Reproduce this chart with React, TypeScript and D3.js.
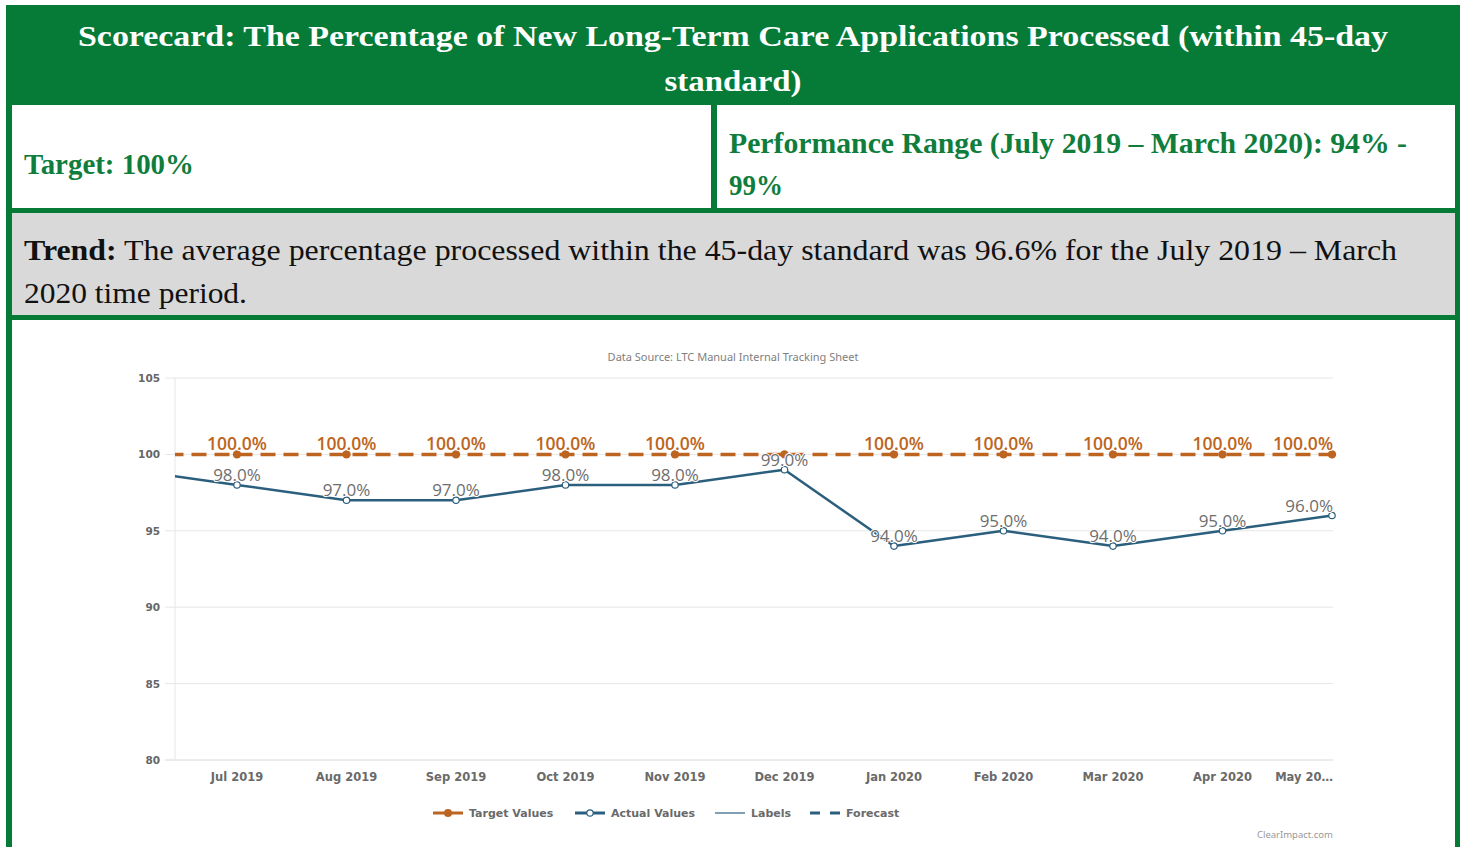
import React from "react";
import * as d3 from "d3";

// months incl. Jun 2019, which lies just left of the visible plot window
const months = ["Jun 2019", "Jul 2019", "Aug 2019", "Sep 2019", "Oct 2019", "Nov 2019", "Dec 2019", "Jan 2020", "Feb 2020", "Mar 2020", "Apr 2020", "May 2020"];
const xTickLabels = ["Jul 2019", "Aug 2019", "Sep 2019", "Oct 2019", "Nov 2019", "Dec 2019", "Jan 2020", "Feb 2020", "Mar 2020", "Apr 2020", "May 20\u2026"];
const targetValues = [100, 100, 100, 100, 100, 100, 100, 100, 100, 100, 100, 100];
const actualValues = [99, 98, 97, 97, 98, 98, 99, 94, 95, 94, 95, 96];
const yTicks = [80, 85, 90, 95, 100, 105];
const legendItems = ["Target Values", "Actual Values", "Labels", "Forecast"];

const W = 1460;
const H = 847;
const GREEN = "#067a37";
const ORANGE = "#bd6520";
const BLUE = "#2a5f7e";
const SERIF = "'Liberation Serif', 'Times New Roman', serif";
const SANS = "'DejaVu Sans', Verdana, sans-serif";
const LABEL_FONT = "'Open Sans', 'Noto Sans', sans-serif";

const plot = { left: 175, right: 1333, top: 378, bottom: 760 };

export default function App() {
  const x = d3.scalePoint<string>().domain(months).range([127.5, 1332]);
  const y = d3.scaleLinear().domain([80, 105]).range([plot.bottom, plot.top]);

  const line = d3
    .line<number>()
    .x((_, i) => x(months[i]) as number)
    .y((d) => y(d));

  const visible = (i: number) => (x(months[i]) as number) >= plot.left;
  const isLast = (i: number) => i === months.length - 1;

  // legend layout (symbol start x for each entry)
  const legendX = [433, 575, 715, 810];
  const legendY = 813;

  return (
    <svg width={W} height={H} style={{ position: "absolute", left: 0, top: 0, background: "#fff" }}>
      <defs>
        <clipPath id="plotClip">
          <rect x={plot.left} y={plot.top - 20} width={plot.right - plot.left + 10} height={plot.bottom - plot.top + 30} />
        </clipPath>
      </defs>

      {/* frame */}
      <rect x={6} y={5} width={1454} height={H} fill={GREEN} />
      <rect x={12} y={105} width={1443} height={103} fill="#fff" />
      <rect x={12} y={213} width={1443} height={102} fill="#d9d9d9" />
      <rect x={12} y={320} width={1443} height={H - 320} fill="#fff" />
      <rect x={711} y={105} width={6} height={108} fill={GREEN} />

      {/* header */}
      <text x={733} y={46} textAnchor="middle" fontFamily={SERIF} fontWeight="bold" fontSize={30} fill="#fff" textLength={1310} lengthAdjust="spacingAndGlyphs">
        Scorecard: The Percentage of New Long-Term Care Applications Processed (within 45-day
      </text>
      <text x={733} y={91} textAnchor="middle" fontFamily={SERIF} fontWeight="bold" fontSize={30} fill="#fff" textLength={137} lengthAdjust="spacingAndGlyphs">
        standard)
      </text>

      <text x={24} y={174} fontFamily={SERIF} fontWeight="bold" fontSize={29} fill="#0f7d3c" textLength={170} lengthAdjust="spacingAndGlyphs">
        Target: 100%
      </text>
      <text x={729} y={153} fontFamily={SERIF} fontWeight="bold" fontSize={29} fill="#0f7d3c" textLength={678} lengthAdjust="spacingAndGlyphs">
        Performance Range (July 2019 – March 2020): 94% -
      </text>
      <text x={729} y={195} fontFamily={SERIF} fontWeight="bold" fontSize={29} fill="#0f7d3c" textLength={54} lengthAdjust="spacingAndGlyphs">
        99%
      </text>

      <text x={24} y={260} fontFamily={SERIF} fontSize={29} fill="#111" textLength={1373} lengthAdjust="spacingAndGlyphs">
        <tspan fontWeight="bold">Trend:</tspan> The average percentage processed within the 45-day standard was 96.6% for the July 2019 – March
      </text>
      <text x={24} y={303} fontFamily={SERIF} fontSize={29} fill="#111" textLength={223} lengthAdjust="spacingAndGlyphs">
        2020 time period.
      </text>

      {/* chart */}
      <text x={733} y={361} textAnchor="middle" fontFamily="'Noto Sans', sans-serif" fontSize={11} fill="#808080">
        Data Source: LTC Manual Internal Tracking Sheet
      </text>

      {yTicks.map((t) => (
        <g key={t}>
          <line x1={165} x2={plot.right} y1={y(t)} y2={y(t)} stroke={t === 80 ? "#d8d8d8" : "#e6e6e6"} strokeWidth={1} />
          <text x={160} y={y(t) + 4} textAnchor="end" fontFamily={SANS} fontWeight="bold" fontSize={10.5} fill="#666">
            {t}
          </text>
        </g>
      ))}
      <line x1={plot.left} x2={plot.left} y1={plot.top} y2={plot.bottom} stroke="#e6e6e6" />

      {xTickLabels.map((lab, i) => (
        <text
          key={lab}
          x={isLast(i + 1) ? plot.right : (x(months[i + 1]) as number)}
          y={781}
          textAnchor={isLast(i + 1) ? "end" : "middle"}
          fontFamily={SANS}
          fontWeight="bold"
          fontSize={11.5}
          fill="#6a6a6a"
        >
          {lab}
        </text>
      ))}

      <g clipPath="url(#plotClip)">
        <path d={line(actualValues) || ""} fill="none" stroke={BLUE} strokeWidth={2.5} strokeLinejoin="round" />
        <path d={line(targetValues) || ""} fill="none" stroke={ORANGE} strokeWidth={3.5} strokeDasharray="15,8" strokeDashoffset={-18} />
      </g>

      {targetValues.map((v, i) =>
        visible(i) ? <circle key={"t" + i} cx={x(months[i]) as number} cy={y(v)} r={4.2} fill={ORANGE} /> : null
      )}
      {actualValues.map((v, i) =>
        visible(i) ? (
          <circle key={"a" + i} cx={x(months[i]) as number} cy={y(v)} r={3.2} fill="#fff" stroke={BLUE} strokeWidth={1.2} />
        ) : null
      )}

      {targetValues.map((v, i) =>
        visible(i) && actualValues[i] < 99 ? (
          <text
            key={"tl" + i}
            x={isLast(i) ? plot.right : (x(months[i]) as number)}
            y={y(v) - 4}
            textAnchor={isLast(i) ? "end" : "middle"}
            fontFamily={LABEL_FONT}
            fontWeight={600}
            fontSize={17.5}
            fill={ORANGE}
            stroke="#fff"
            strokeWidth={2}
            paintOrder="stroke"
          >
            {v.toFixed(1)}%
          </text>
        ) : null
      )}
      {actualValues.map((v, i) =>
        visible(i) ? (
          <text
            key={"al" + i}
            x={isLast(i) ? plot.right : (x(months[i]) as number)}
            y={y(v) - 4}
            textAnchor={isLast(i) ? "end" : "middle"}
            fontFamily={LABEL_FONT}
            fontSize={17}
            fill="#6e6e6e"
            stroke="#fff"
            strokeWidth={2}
            paintOrder="stroke"
          >
            {v.toFixed(1)}%
          </text>
        ) : null
      )}

      {/* legend */}
      {legendItems.map((name, i) => {
        const lx = legendX[i];
        return (
          <g key={name}>
            {i === 0 && (
              <>
                <line x1={lx} x2={lx + 30} y1={legendY} y2={legendY} stroke={ORANGE} strokeWidth={3} />
                <circle cx={lx + 15} cy={legendY} r={4} fill={ORANGE} />
              </>
            )}
            {i === 1 && (
              <>
                <line x1={lx} x2={lx + 30} y1={legendY} y2={legendY} stroke={BLUE} strokeWidth={3} />
                <circle cx={lx + 15} cy={legendY} r={3.2} fill="#fff" stroke={BLUE} strokeWidth={1.2} />
              </>
            )}
            {i === 2 && <line x1={lx} x2={lx + 30} y1={legendY} y2={legendY} stroke={BLUE} strokeWidth={1.2} />}
            {i === 3 && <line x1={lx} x2={lx + 30} y1={legendY} y2={legendY} stroke={BLUE} strokeWidth={3} strokeDasharray="10,10" />}
            <text x={lx + 36} y={legendY + 4} fontFamily={SANS} fontWeight="bold" fontSize={11} fill="#6a6a6a">
              {name}
            </text>
          </g>
        );
      })}

      <text x={plot.right} y={838} textAnchor="end" fontFamily="'Noto Sans', sans-serif" fontSize={9.5} fill="#999">
        ClearImpact.com
      </text>
    </svg>
  );
}
